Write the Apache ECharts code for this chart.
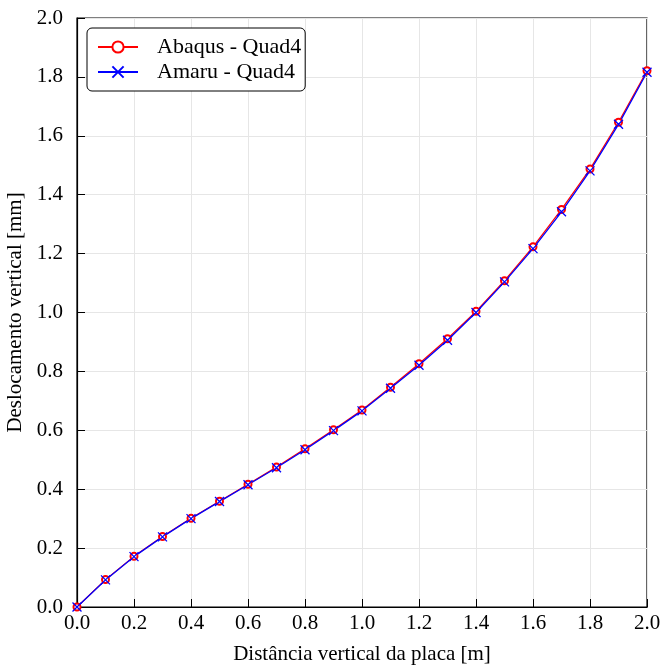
<!DOCTYPE html>
<html>
<head>
<meta charset="utf-8">
<script src="https://cdn.jsdelivr.net/npm/echarts@6/dist/echarts.min.js"></script>
<style>
  html, body { margin: 0; padding: 0; background: #fff; }
  #chart { width: 660px; height: 666px; }
</style>
</head>
<body>
<div id="chart"></div>
<script>
// Vertical position along the plate [m]
const distance = [0.0, 0.1, 0.2, 0.3, 0.4, 0.5, 0.6, 0.7, 0.8, 0.9, 1.0,
                  1.1, 1.2, 1.3, 1.4, 1.5, 1.6, 1.7, 1.8, 1.9, 2.0];

// Vertical displacement [mm]
const abaqusQuad4 = [0.000, 0.093, 0.172, 0.239, 0.301, 0.359, 0.417, 0.475, 0.537, 0.602, 0.669,
                     0.746, 0.826, 0.911, 1.004, 1.108, 1.223, 1.350, 1.487, 1.646, 1.821];
const amaruQuad4  = [0.000, 0.092, 0.171, 0.238, 0.300, 0.358, 0.415, 0.473, 0.534, 0.599, 0.666,
                     0.743, 0.821, 0.906, 1.000, 1.104, 1.217, 1.342, 1.481, 1.639, 1.816];

const seriesNames = ['Abaqus - Quad4', 'Amaru - Quad4'];

const FONT = 'Liberation Serif, Times New Roman, serif';
const pairs = (xs, ys) => xs.map((x, i) => [x, ys[i]]);
const crossSymbol = 'path://M0,0L10,10M10,0L0,10';

const chart = echarts.init(document.getElementById('chart'), null, { renderer: 'canvas' });

chart.setOption({
  animation: false,
  backgroundColor: '#ffffff',
  textStyle: { fontFamily: FONT, color: '#000' },
  grid: {
    left: 77, right: 13, top: 18, bottom: 59,
    containLabel: false,
    outerBoundsMode: 'none',
    show: true, borderColor: '#000', borderWidth: 1.2, backgroundColor: 'transparent'
  },
  legend: {
    orient: 'vertical',
    left: 87, top: 28,
    padding: [8, 4, 8, 10],
    itemGap: 3,
    itemWidth: 40, itemHeight: 14,
    borderColor: '#000', borderWidth: 1, borderRadius: 5,
    backgroundColor: '#fff',
    textStyle: { fontFamily: FONT, fontSize: 22, color: '#000', padding: [0, 0, 0, 14] },
    data: seriesNames
  },
  xAxis: {
    type: 'value',
    min: 0, max: 2, interval: 0.2,
    name: 'Distância vertical da placa [m]',
    nameLocation: 'middle', nameGap: 37,
    nameTextStyle: { fontFamily: FONT, fontSize: 21, color: '#000' },
    axisLine: { show: true, lineStyle: { color: '#000', width: 1.2 } },
    axisTick: { show: true, inside: true, length: 8, lineStyle: { color: '#000', width: 1 } },
    axisLabel: { fontFamily: FONT, fontSize: 21, color: '#000', margin: 6,
                 formatter: v => v.toFixed(1) },
    splitLine: { show: true, lineStyle: { color: '#e6e6e6', width: 1 } }
  },
  yAxis: {
    type: 'value',
    min: 0, max: 2, interval: 0.2,
    name: 'Deslocamento vertical [mm]',
    nameLocation: 'middle', nameGap: 44,
    nameTextStyle: { fontFamily: FONT, fontSize: 21, color: '#000' },
    axisLine: { show: true, lineStyle: { color: '#000', width: 1.2 } },
    axisTick: { show: true, inside: true, length: 8, lineStyle: { color: '#000', width: 1 } },
    axisLabel: { fontFamily: FONT, fontSize: 21, color: '#000', margin: 14,
                 formatter: v => v.toFixed(1) },
    splitLine: { show: true, lineStyle: { color: '#e6e6e6', width: 1 } }
  },
  series: [
    {
      name: seriesNames[0],
      type: 'line',
      data: pairs(distance, abaqusQuad4),
      symbol: 'emptyCircle',
      symbolSize: 7,
      showAllSymbol: true,
      lineStyle: { color: '#ff0000', width: 1.2 },
      itemStyle: { color: '#ff0000', borderColor: '#ff0000', borderWidth: 1 },
      clip: false
    },
    {
      name: seriesNames[1],
      type: 'line',
      data: pairs(distance, amaruQuad4),
      symbol: crossSymbol,
      symbolSize: 9,
      showAllSymbol: true,
      lineStyle: { color: '#0000ff', width: 1.3 },
      itemStyle: { color: '#0000ff', borderColor: '#0000ff', borderWidth: 1.3 },
      clip: false
    }
  ]
});
</script>
</body>
</html>
